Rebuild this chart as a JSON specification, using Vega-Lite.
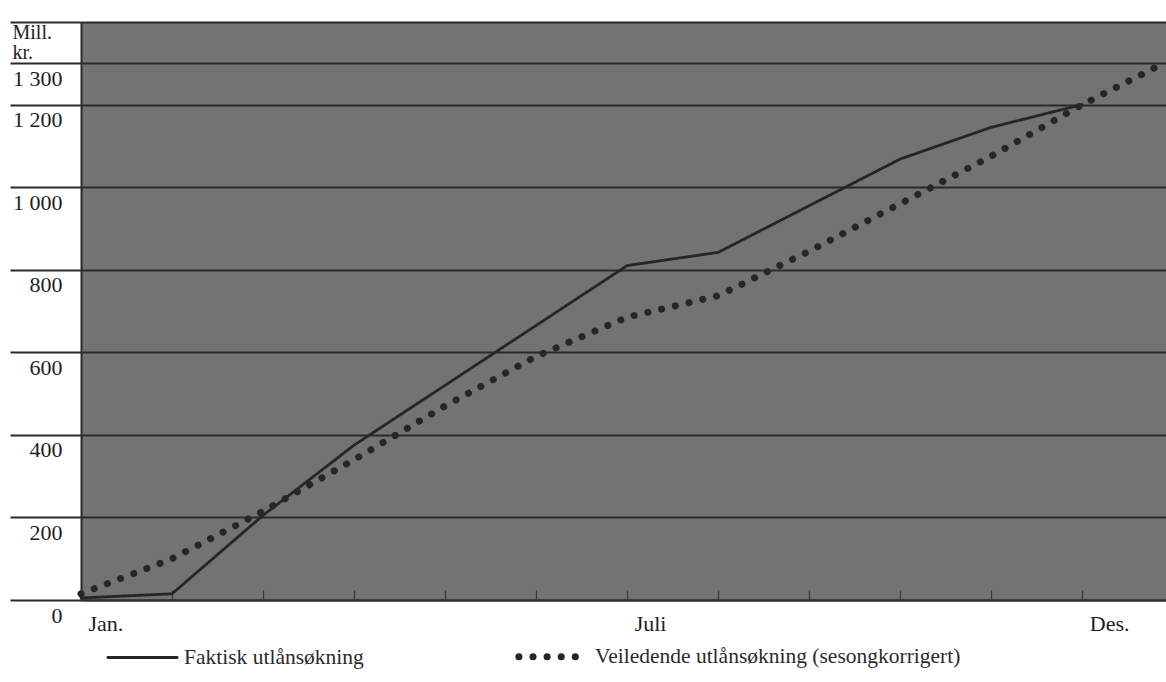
{
  "$schema": "https://vega.github.io/schema/vega-lite/v6.json",
  "width": 1085,
  "height": 578,
  "autosize": {"type": "none"},
  "padding": {"left": 81, "top": 22, "right": 0, "bottom": 82},
  "background": "#ffffff",
  "config": {
    "view": {"fill": "#737373", "stroke": null},
    "font": "Liberation Serif"
  },
  "data": {
    "values": [
      {"m": 0, "v": 5, "serie": "Faktisk utlånsøkning"},
      {"m": 1, "v": 15, "serie": "Faktisk utlånsøkning"},
      {"m": 2, "v": 205, "serie": "Faktisk utlånsøkning"},
      {"m": 3, "v": 375, "serie": "Faktisk utlånsøkning"},
      {"m": 4, "v": 520, "serie": "Faktisk utlånsøkning"},
      {"m": 5, "v": 665, "serie": "Faktisk utlånsøkning"},
      {"m": 6, "v": 810, "serie": "Faktisk utlånsøkning"},
      {"m": 7, "v": 842, "serie": "Faktisk utlånsøkning"},
      {"m": 8, "v": 955, "serie": "Faktisk utlånsøkning"},
      {"m": 9, "v": 1068, "serie": "Faktisk utlånsøkning"},
      {"m": 10, "v": 1145, "serie": "Faktisk utlånsøkning"},
      {"m": 11, "v": 1200, "serie": "Faktisk utlånsøkning"},
      {"m": 0, "v": 15, "serie": "Veiledende utlånsøkning (sesongkorrigert)"},
      {"m": 1, "v": 100, "serie": "Veiledende utlånsøkning (sesongkorrigert)"},
      {"m": 2, "v": 215, "serie": "Veiledende utlånsøkning (sesongkorrigert)"},
      {"m": 3, "v": 340, "serie": "Veiledende utlånsøkning (sesongkorrigert)"},
      {"m": 4, "v": 470, "serie": "Veiledende utlånsøkning (sesongkorrigert)"},
      {"m": 5, "v": 590, "serie": "Veiledende utlånsøkning (sesongkorrigert)"},
      {"m": 6, "v": 685, "serie": "Veiledende utlånsøkning (sesongkorrigert)"},
      {"m": 7, "v": 737, "serie": "Veiledende utlånsøkning (sesongkorrigert)"},
      {"m": 8, "v": 845, "serie": "Veiledende utlånsøkning (sesongkorrigert)"},
      {"m": 9, "v": 960, "serie": "Veiledende utlånsøkning (sesongkorrigert)"},
      {"m": 10, "v": 1075, "serie": "Veiledende utlånsøkning (sesongkorrigert)"},
      {"m": 11, "v": 1200, "serie": "Veiledende utlånsøkning (sesongkorrigert)"},
      {"m": 11.85, "v": 1295, "serie": "Veiledende utlånsøkning (sesongkorrigert)"}
    ]
  },
  "mark": {"type": "line", "strokeCap": "round", "strokeJoin": "round"},
  "encoding": {
    "x": {
      "field": "m",
      "type": "quantitative",
      "scale": {"domain": [0, 11.92], "nice": false, "zero": false},
      "axis": {
        "title": null,
        "values": [0, 1, 2, 3, 4, 5, 6, 7, 8, 9, 10, 11],
        "grid": false,
        "domainColor": "#2e2e2e",
        "domainWidth": 2,
        "tickSize": -10,
        "tickColor": "#3a3a3a",
        "tickWidth": 1.2,
        "labelExpr": "datum.value == 0 ? 'Jan.' : datum.value == 6 ? 'Juli' : datum.value == 11 ? 'Des.' : ''",
        "labelAlign": "left",
        "labelBaseline": "top",
        "labelOffset": 7,
        "labelPadding": 23,
        "labelFontSize": 22,
        "labelColor": "#1e1e1e",
        "labelFont": "Liberation Serif"
      }
    },
    "y": {
      "field": "v",
      "type": "quantitative",
      "scale": {"domain": [0, 1400], "nice": false},
      "axis": {
        "title": null,
        "values": [0, 200, 400, 600, 800, 1000, 1200, 1300, 1400],
        "grid": true,
        "gridColor": "#2a2a2a",
        "gridWidth": 1.8,
        "domainColor": "#2a2a2a",
        "domainWidth": 2,
        "tickSize": 71,
        "tickColor": "#2a2a2a",
        "tickWidth": 1.8,
        "labelExpr": "datum.value == 1400 ? ['Mill.', 'kr.'] : (datum.value >= 1000 ? '1 ' + format(datum.value - 1000, '03') : format(datum.value, 'd'))",
        "labelAlign": {"condition": {"test": "datum.value == 1400", "value": "left"}, "value": "right"},
        "labelPadding": {"condition": {"test": "datum.value == 1400", "value": -2}, "value": -52},
        "labelOffset": {"condition": {"test": "datum.value == 1400", "value": 0}, "value": 5},
        "labelFontSize": {"condition": {"test": "datum.value == 1400", "value": 20}, "value": 22},
        "labelBaseline": "top",
        "labelLineHeight": 20,
        "labelColor": "#1e1e1e",
        "labelFont": "Liberation Serif"
      }
    },
    "color": {
      "field": "serie",
      "type": "nominal",
      "scale": {
        "domain": ["Faktisk utlånsøkning", "Veiledende utlånsøkning (sesongkorrigert)"],
        "range": ["#262626", "#262626"]
      },
      "legend": {
        "title": null,
        "orient": "none",
        "legendX": 23,
        "legendY": 596,
        "direction": "horizontal",
        "columns": 2,
        "columnPadding": 140,
        "symbolType": "stroke",
        "symbolSize": 4800,
        "labelFontSize": 21.5,
        "labelFont": "Liberation Serif",
        "labelColor": "#2a2a2a",
        "labelOffset": 3,
        "labelLimit": 600,
        "encode": {"symbols": {"update": {"strokeCap": {"value": "round"}}}}
      }
    },
    "strokeDash": {
      "field": "serie",
      "type": "nominal",
      "scale": {
        "domain": ["Faktisk utlånsøkning", "Veiledende utlånsøkning (sesongkorrigert)"],
        "range": [[1, 0], [0.1, 14]]
      },
      "legend": null
    },
    "strokeWidth": {
      "field": "serie",
      "type": "nominal",
      "scale": {
        "domain": ["Faktisk utlånsøkning", "Veiledende utlånsøkning (sesongkorrigert)"],
        "range": [2.8, 7]
      },
      "legend": null
    }
  }
}
